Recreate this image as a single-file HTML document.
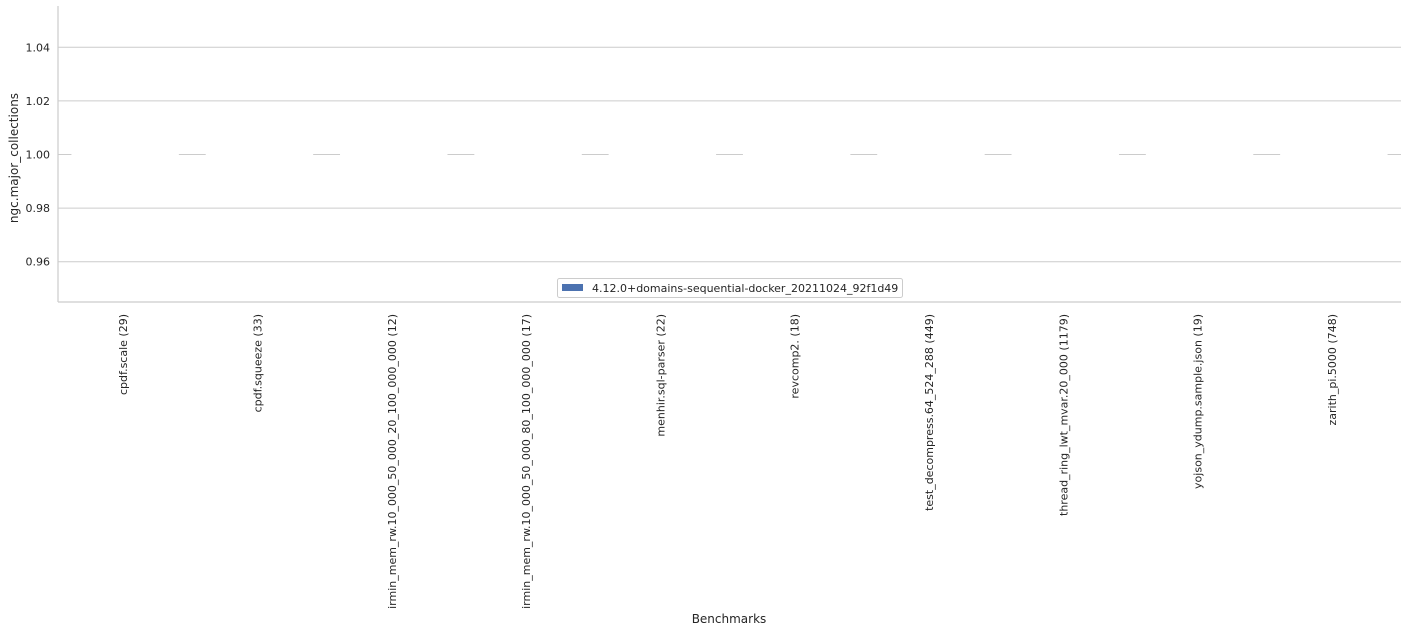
<!DOCTYPE html>
<html><head><meta charset="utf-8"><style>
body{margin:0;background:#fff;font-family:"DejaVu Sans",sans-serif;}
svg text{font-family:"DejaVu Sans",sans-serif;fill:#262626;}
</style></head><body>
<svg id="chart" width="1408" height="632">
<g id="grid"></g><g id="bars"></g><g id="axes"></g><g id="labels"></g>
<text x="729" y="623" font-size="12" text-anchor="middle">Benchmarks</text>
<text transform="translate(18,158) rotate(-90)" font-size="12" text-anchor="middle">ngc.major_collections</text>
<g>
<rect x="557.5" y="278.5" width="345" height="19" fill="#fff" stroke="#ccc" rx="2"/>
<rect x="562" y="284" width="21" height="7" fill="#4c72b0"/>
<text x="592" y="292" font-size="11">4.12.0+domains-sequential-docker_20211024_92f1d49</text>
</g>
</svg>
<script>
const categories=["cpdf.scale (29)","cpdf.squeeze (33)","irmin_mem_rw.10_000_50_000_20_100_000_000 (12)","irmin_mem_rw.10_000_50_000_80_100_000_000 (17)","menhir.sql-parser (22)","revcomp2. (18)","test_decompress.64_524_288 (449)","thread_ring_lwt_mvar.20_000 (1179)","yojson_ydump.sample.json (19)","zarith_pi.5000 (748)"];
const values=[1,1,1,1,1,1,1,1,1,1];
const yTicks=[0.96,0.98,1.00,1.02,1.04];
const yTickLabels=["0.96","0.98","1.00","1.02","1.04"];
const NS="http://www.w3.org/2000/svg";
const L=58,R=1401,T=6,B=302,yMin=0.9448,yMax=1.0552;
const y=v=>B-(v-yMin)/(yMax-yMin)*(B-T);
const band=(R-L)/categories.length;
const x=i=>L+band*(i+0.5);
function mk(tag,attrs,parent){const e=document.createElementNS(NS,tag);for(const k in attrs)e.setAttribute(k,attrs[k]);document.getElementById(parent).appendChild(e);return e;}
yTicks.forEach((t,i)=>{
 const g=mk('line',{x1:L,x2:R,y1:y(t)+0.5,y2:y(t)+0.5,stroke:'#cccccc','stroke-width':1},'grid');
 
 
 const tx=mk('text',{x:L-8,y:y(t)+4.5,'font-size':11,'text-anchor':'end'},'labels');
 tx.textContent=yTickLabels[i];
 
 
});
categories.forEach((c,i)=>{
 const bw=band*0.8;
 const r=mk('rect',{x:x(i)-bw/2,y:y(values[i])-1,width:bw,height:3,fill:'#ffffff'},'bars');
 
 
 const t=mk('text',{transform:`translate(${x(i)+2},314) rotate(-90)`,'font-size':11,'text-anchor':'end'},'labels');
 t.textContent=c;
 
 
});
const a1=mk('line',{x1:L,x2:L,y1:T,y2:B,stroke:'#cccccc','stroke-width':1.2},'axes');


const a2=mk('line',{x1:L,x2:R,y1:B,y2:B,stroke:'#cccccc','stroke-width':1.2},'axes');


</script>
</body></html>
